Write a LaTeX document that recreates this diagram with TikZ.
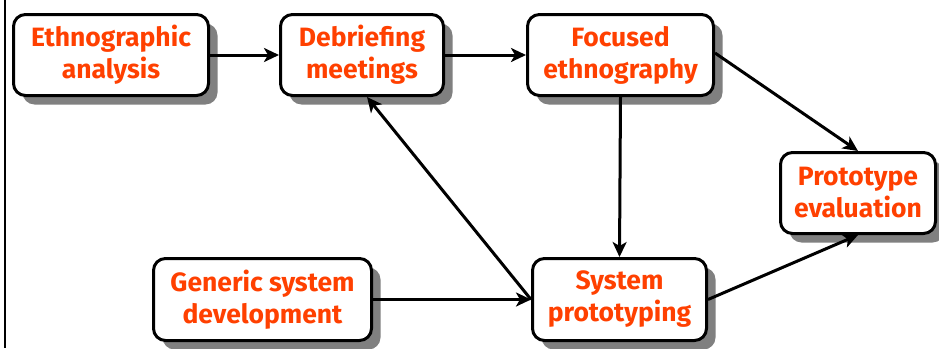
\documentclass[tikz,border=0pt]{standalone}
\usepackage{fontspec}
\setmainfont{Fira Sans}
\usetikzlibrary{shadows,arrows.meta}
\definecolor{txtred}{RGB}{255,64,0}
\definecolor{shadowgray}{RGB}{128,128,128}
\begin{document}
\begin{tikzpicture}[x=1pt,y=-1pt,
  box/.style={draw=black, line width=3pt, rounded corners=12pt, fill=white,
    align=center, text=txtred, font=\fontsize{26.5}{32}\selectfont\bfseries,
    inner sep=0pt,
    drop shadow={shadow xshift=9pt, shadow yshift=-9pt, fill=shadowgray, opacity=1}},
  conn/.style={line width=3pt, -{Stealth[length=15pt,width=14pt,inset=4pt]}}]
\useasboundingbox (0,0) rectangle (939,348);
\draw[line width=2pt] (5,0) -- (5,348);
\node[box, minimum width=195pt, minimum height=81pt] (eth) at (111,55) {Ethnographic\\analysis};
\node[box, minimum width=163pt, minimum height=81pt] (deb) at (362,55) {Debriefing\\meetings};
\node[box, minimum width=186pt, minimum height=81pt] (foc) at (620.5,55) {Focused\\ethnography};
\node[box, minimum width=155pt, minimum height=81pt] (pro) at (858,193) {Prototype\\evaluation};
\node[box, minimum width=174pt, minimum height=82pt] (sys) at (619.5,299.5) {System\\prototyping};
\node[box, minimum width=218pt, minimum height=82pt] (gen) at (262.5,299.5) {Generic system\\development};
\draw[conn] (eth.east) -- (deb.west);
\draw[conn] (deb.east) -- (foc.west);
\draw[conn] (foc.south) -- (sys.north);
\draw[conn] ([yshift=2pt]foc.east) -- (pro.north);
\draw[conn] (sys.east) -- (pro.south);
\draw[conn] (gen.east) -- (sys.west);
\draw[conn] (sys.west) -- ([xshift=5pt]deb.south);
\end{tikzpicture}
\end{document}
